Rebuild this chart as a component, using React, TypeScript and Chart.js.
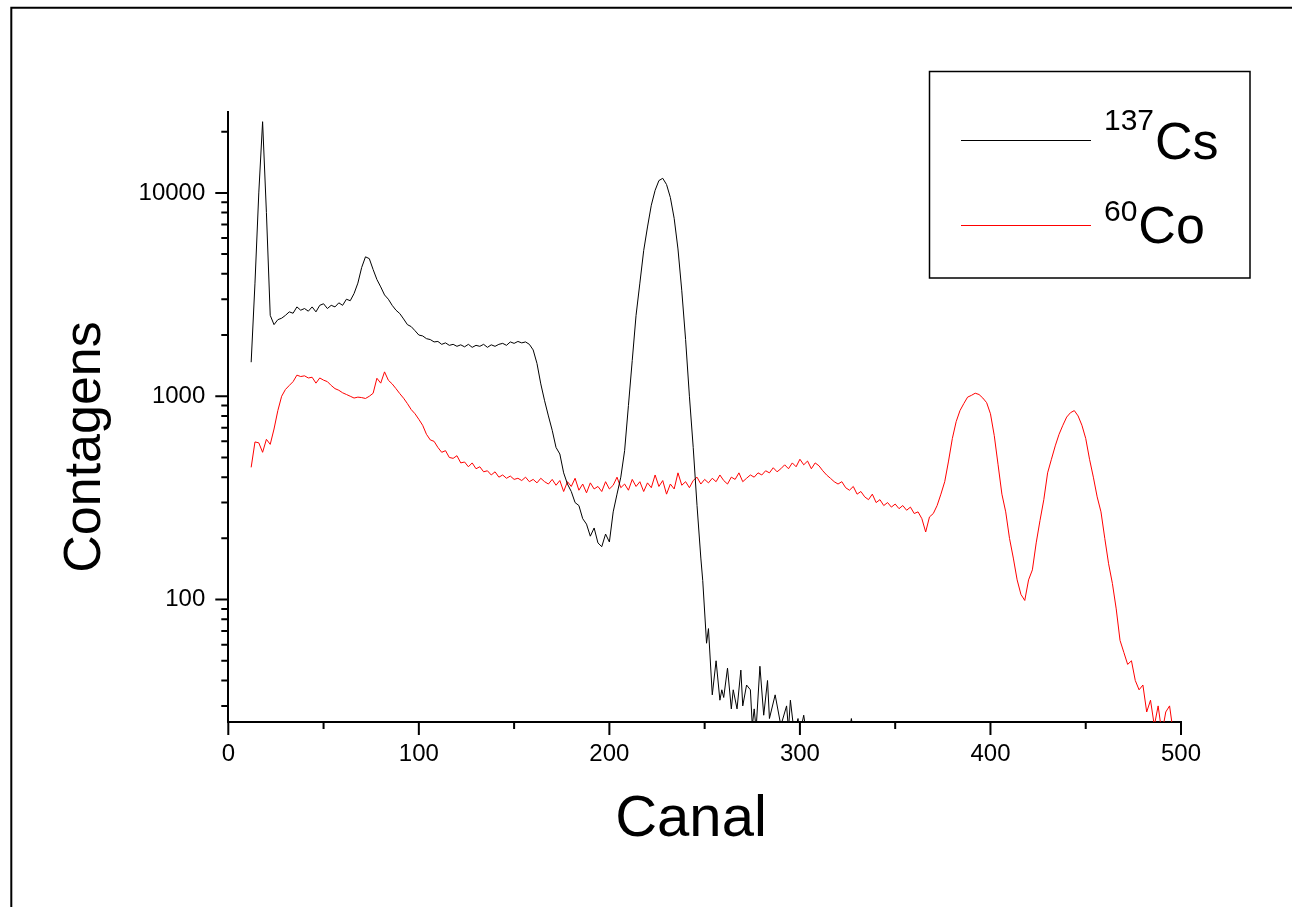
import React, { useEffect, useRef } from "react";
import { Chart, registerables } from "chart.js";

Chart.register(...registerables);

const FONT = '"Liberation Sans", Arial, Helvetica, sans-serif';

// 137Cs spectrum: channel / counts
const csChannels = [
  12, 14, 16, 18, 20, 22, 24, 26, 28, 30,
  32, 34, 36, 38, 40, 42, 44, 46, 48, 50,
  52, 54, 56, 58, 60, 62, 64, 66, 68, 70,
  72, 74, 76, 78, 80, 82, 84, 86, 88, 90,
  92, 94, 96, 98, 100, 102, 104, 106, 108, 110,
  112, 114, 116, 118, 120, 122, 124, 126, 128, 130,
  132, 134, 136, 138, 140, 142, 144, 146, 148, 150,
  152, 154, 156, 158, 160, 162, 164, 166, 168, 170,
  172, 174, 176, 178, 180, 182, 184, 186, 188, 190,
  192, 194, 196, 198, 200, 202, 204, 206, 208, 210,
  212, 214, 216, 218, 220, 222, 224, 226, 228, 230,
  232, 234, 236, 238, 240, 242, 244, 246, 248, 249,
  251, 252, 254, 256, 258, 259, 260, 262, 264, 265,
  267, 269, 270, 272, 274, 275, 276, 277, 279, 281,
  283, 284, 287, 290, 293, 294, 295, 297, 299, 300,
  302, 304, 310, 320, 325, 327, 329, 335,
];
const csCounts = [
  1470, 3600, 10000, 22400, 8000, 2500, 2250, 2380, 2420, 2500,
  2600, 2560, 2750, 2650, 2700, 2620, 2750, 2600, 2800, 2850,
  2700, 2800, 2750, 2880, 2800, 3000, 2950, 3200, 3600, 4300,
  4850, 4750, 4200, 3750, 3450, 3150, 3000, 2800, 2650, 2550,
  2400, 2250, 2200, 2100, 2000, 1980, 1920, 1900, 1850, 1860,
  1800, 1830, 1780, 1800, 1760, 1790, 1750, 1800, 1740, 1780,
  1760, 1800, 1740, 1790, 1760, 1800, 1820, 1780, 1850, 1820,
  1860, 1830, 1850, 1800, 1690, 1450, 1150, 950, 800, 680,
  560, 520, 420, 370, 340, 300, 290, 250, 235, 205,
  225, 190, 182, 210, 192, 270, 330, 400, 540, 900,
  1500, 2500, 3600, 5200, 6800, 8700, 10300, 11500, 11800, 11000,
  9500, 7500, 5300, 3300, 1900, 1000, 560, 290, 160, 124,
  61, 72, 34, 50, 32, 36, 33, 46, 29, 36,
  29, 45, 30, 38, 36, 24, 29, 23, 47, 27,
  40, 26, 34, 24, 30, 23, 32, 22, 26, 22,
  27, 20, 18, 18, 20, 26, 20, 18,
];

// 60Co spectrum: counts every 2 channels starting at channel 12
const coFirstChannel = 12;
const coChannelStep = 2;
const coCounts = [
  447, 596, 590, 530, 614, 580, 690, 850, 1000, 1080,
  1130, 1180, 1270, 1250, 1260, 1230, 1240, 1160, 1230, 1200,
  1180, 1130, 1090, 1070, 1040, 1020, 1000, 980, 990, 985,
  975, 1000, 1034, 1226, 1160, 1318, 1199, 1150, 1090, 1030,
  978, 920, 860, 820, 770, 720, 650, 610, 600, 560,
  530, 540, 500, 495, 510, 470, 475, 450, 470, 440,
  450, 425, 430, 410, 425, 400, 410, 395, 405, 390,
  395, 385, 400, 380, 390, 375, 395, 380, 370, 390,
  365, 385, 340, 380, 360, 395, 345, 370, 335, 375,
  350, 360, 340, 380, 350, 365, 400, 355, 370, 345,
  390, 360, 380, 340, 375, 355, 410, 360, 385, 330,
  370, 350, 420, 365, 380, 355, 385, 400, 370, 390,
  375, 395, 380, 410, 385, 370, 400, 390, 420, 380,
  395, 410, 400, 420, 410, 430, 420, 445, 425, 440,
  460, 440, 470, 450, 490, 460, 480, 440, 470, 455,
  430, 410, 395, 380, 370, 380, 355, 345, 360, 330,
  340, 320, 310, 330, 300, 310, 290, 300, 285, 295,
  280, 290, 275, 285, 265, 270, 250, 215, 255, 265,
  290, 330, 380, 480, 620, 750, 850, 920, 990, 1010,
  1035, 1020, 980, 930, 820, 640, 460, 330, 270, 200,
  160, 125, 106, 99, 125, 140, 190, 245, 310, 420,
  490, 570, 650, 720, 790, 830, 850, 800, 720, 620,
  490, 400, 320, 270, 200, 150, 120, 90, 63, 55,
  48, 50, 40, 36, 38, 28, 32, 24, 30, 22,
  28, 30, 22,
];
const coChannels = coCounts.map((_, i) => coFirstChannel + i * coChannelStep);

const xMajorTicks = [0, 100, 200, 300, 400, 500];
const xMinorTicks = [50, 150, 250, 350, 450];
const yMajorTicks = [100, 1000, 10000];
const yMinorTicks = [
  30, 40, 50, 60, 70, 80, 90,
  200, 300, 400, 500, 600, 700, 800, 900,
  2000, 3000, 4000, 5000, 6000, 7000, 8000, 9000,
  20000,
];

const xTitle = "Canal";
const yTitle = "Contagens";
const legendSup = ["137", "60"];
const legendBase = ["Cs", "Co"];
const seriesColors = ["#000000", "#ff0000"];

const decorPlugin = {
  id: "decor",
  beforeDraw(chart: any) {
    const ctx = chart.ctx;
    ctx.save();
    ctx.strokeStyle = "#000";
    ctx.lineWidth = 2;
    ctx.beginPath();
    ctx.moveTo(11.3, 930);
    ctx.lineTo(11.3, 7.7);
    ctx.lineTo(1300, 7.7);
    ctx.stroke();
    ctx.restore();
  },
  afterDraw(chart: any) {
    const { ctx, chartArea, scales } = chart;
    const xs = scales.x;
    const ys = scales.y;
    ctx.save();
    ctx.strokeStyle = "#000";
    ctx.lineWidth = 2;
    ctx.beginPath();
    for (const v of yMajorTicks) {
      const p = ys.getPixelForValue(v);
      ctx.moveTo(chartArea.left - 13, p);
      ctx.lineTo(chartArea.left, p);
    }
    for (const v of yMinorTicks) {
      const p = ys.getPixelForValue(v);
      ctx.moveTo(chartArea.left - 7, p);
      ctx.lineTo(chartArea.left, p);
    }
    for (const v of xMajorTicks) {
      const p = xs.getPixelForValue(v);
      ctx.moveTo(p, chartArea.bottom);
      ctx.lineTo(p, chartArea.bottom + 13);
    }
    for (const v of xMinorTicks) {
      const p = xs.getPixelForValue(v);
      ctx.moveTo(p, chartArea.bottom);
      ctx.lineTo(p, chartArea.bottom + 7);
    }
    ctx.stroke();

    // axis titles
    ctx.fillStyle = "#000";
    ctx.textAlign = "center";
    ctx.textBaseline = "alphabetic";
    ctx.font = `58px ${FONT}`;
    ctx.fillText(xTitle, 691, 836);
    ctx.font = `52px ${FONT}`;
    ctx.save();
    ctx.translate(100, 447);
    ctx.rotate(-Math.PI / 2);
    ctx.fillText(yTitle, 0, 0);
    ctx.restore();

    // legend
    ctx.lineWidth = 1.5;
    ctx.strokeRect(929.5, 71.5, 320.5, 206.5);
    const lineY = [140.5, 225.5];
    const supY = [130, 221];
    const baseY = [159, 243];
    ctx.textAlign = "left";
    for (let i = 0; i < 2; i++) {
      ctx.strokeStyle = seriesColors[i];
      ctx.lineWidth = 1;
      ctx.beginPath();
      ctx.moveTo(961, lineY[i]);
      ctx.lineTo(1091, lineY[i]);
      ctx.stroke();
      ctx.fillStyle = "#000";
      ctx.font = `30px ${FONT}`;
      ctx.fillText(legendSup[i], 1104, supY[i]);
      const w = ctx.measureText(legendSup[i]).width;
      ctx.font = `52px ${FONT}`;
      ctx.fillText(legendBase[i], 1104 + w + 1, baseY[i]);
    }
    ctx.restore();
  },
};

export default function App() {
  const ref = useRef<HTMLCanvasElement>(null);
  useEffect(() => {
    const chart = new Chart(ref.current as HTMLCanvasElement, {
      type: "line",
      data: {
        datasets: [
          {
            label: "137Cs",
            data: csChannels.map((c, i) => ({ x: c, y: csCounts[i] })),
            borderColor: seriesColors[0],
            borderWidth: 1,
            pointRadius: 0,
            tension: 0,
            fill: false,
          },
          {
            label: "60Co",
            data: coChannels.map((c, i) => ({ x: c, y: coCounts[i] })),
            borderColor: seriesColors[1],
            borderWidth: 1,
            pointRadius: 0,
            tension: 0,
            fill: false,
          },
        ],
      },
      options: {
        animation: false,
        responsive: false,
        devicePixelRatio: 1,
        layout: { padding: { left: 0, top: 112, right: 111, bottom: 0 } },
        plugins: {
          legend: { display: false },
          tooltip: { enabled: false },
          title: { display: false },
        },
        scales: {
          x: {
            type: "linear",
            min: 0,
            max: 500,
            afterBuildTicks: (s: any) => {
              s.ticks = [...xMajorTicks, ...xMinorTicks]
                .sort((a, b) => a - b)
                .map((v) => ({ value: v }));
            },
            afterFit: (s: any) => {
              s.height = 185;
            },
            grid: { display: false, drawTicks: false },
            border: { display: true, color: "#000", width: 2 },
            ticks: {
              autoSkip: false,
              maxRotation: 0,
              minRotation: 0,
              padding: 18,
              color: "#000",
              font: { family: FONT, size: 24 },
              callback: (v: any) => (xMajorTicks.includes(Number(v)) ? String(v) : ""),
            },
          },
          y: {
            type: "logarithmic",
            min: 25,
            max: 25000,
            afterBuildTicks: (s: any) => {
              s.ticks = [...yMajorTicks, ...yMinorTicks]
                .sort((a, b) => a - b)
                .map((v) => ({ value: v }));
            },
            afterFit: (s: any) => {
              s.width = 228.3;
            },
            grid: { display: false, drawTicks: false },
            border: { display: true, color: "#000", width: 2 },
            ticks: {
              autoSkip: false,
              padding: 23,
              color: "#000",
              font: { family: FONT, size: 24 },
              callback: (v: any) => (yMajorTicks.includes(Number(v)) ? String(v) : ""),
            },
          },
        },
      },
      plugins: [decorPlugin],
    });
    return () => chart.destroy();
  }, []);
  return (
    <div
      style={{
        position: "fixed",
        left: 0,
        top: 0,
        width: 1292,
        height: 907,
        background: "#fff",
      }}
    >
      <canvas
        ref={ref}
        width={1292}
        height={907}
        style={{ width: 1292, height: 907, display: "block" }}
      />
    </div>
  );
}
